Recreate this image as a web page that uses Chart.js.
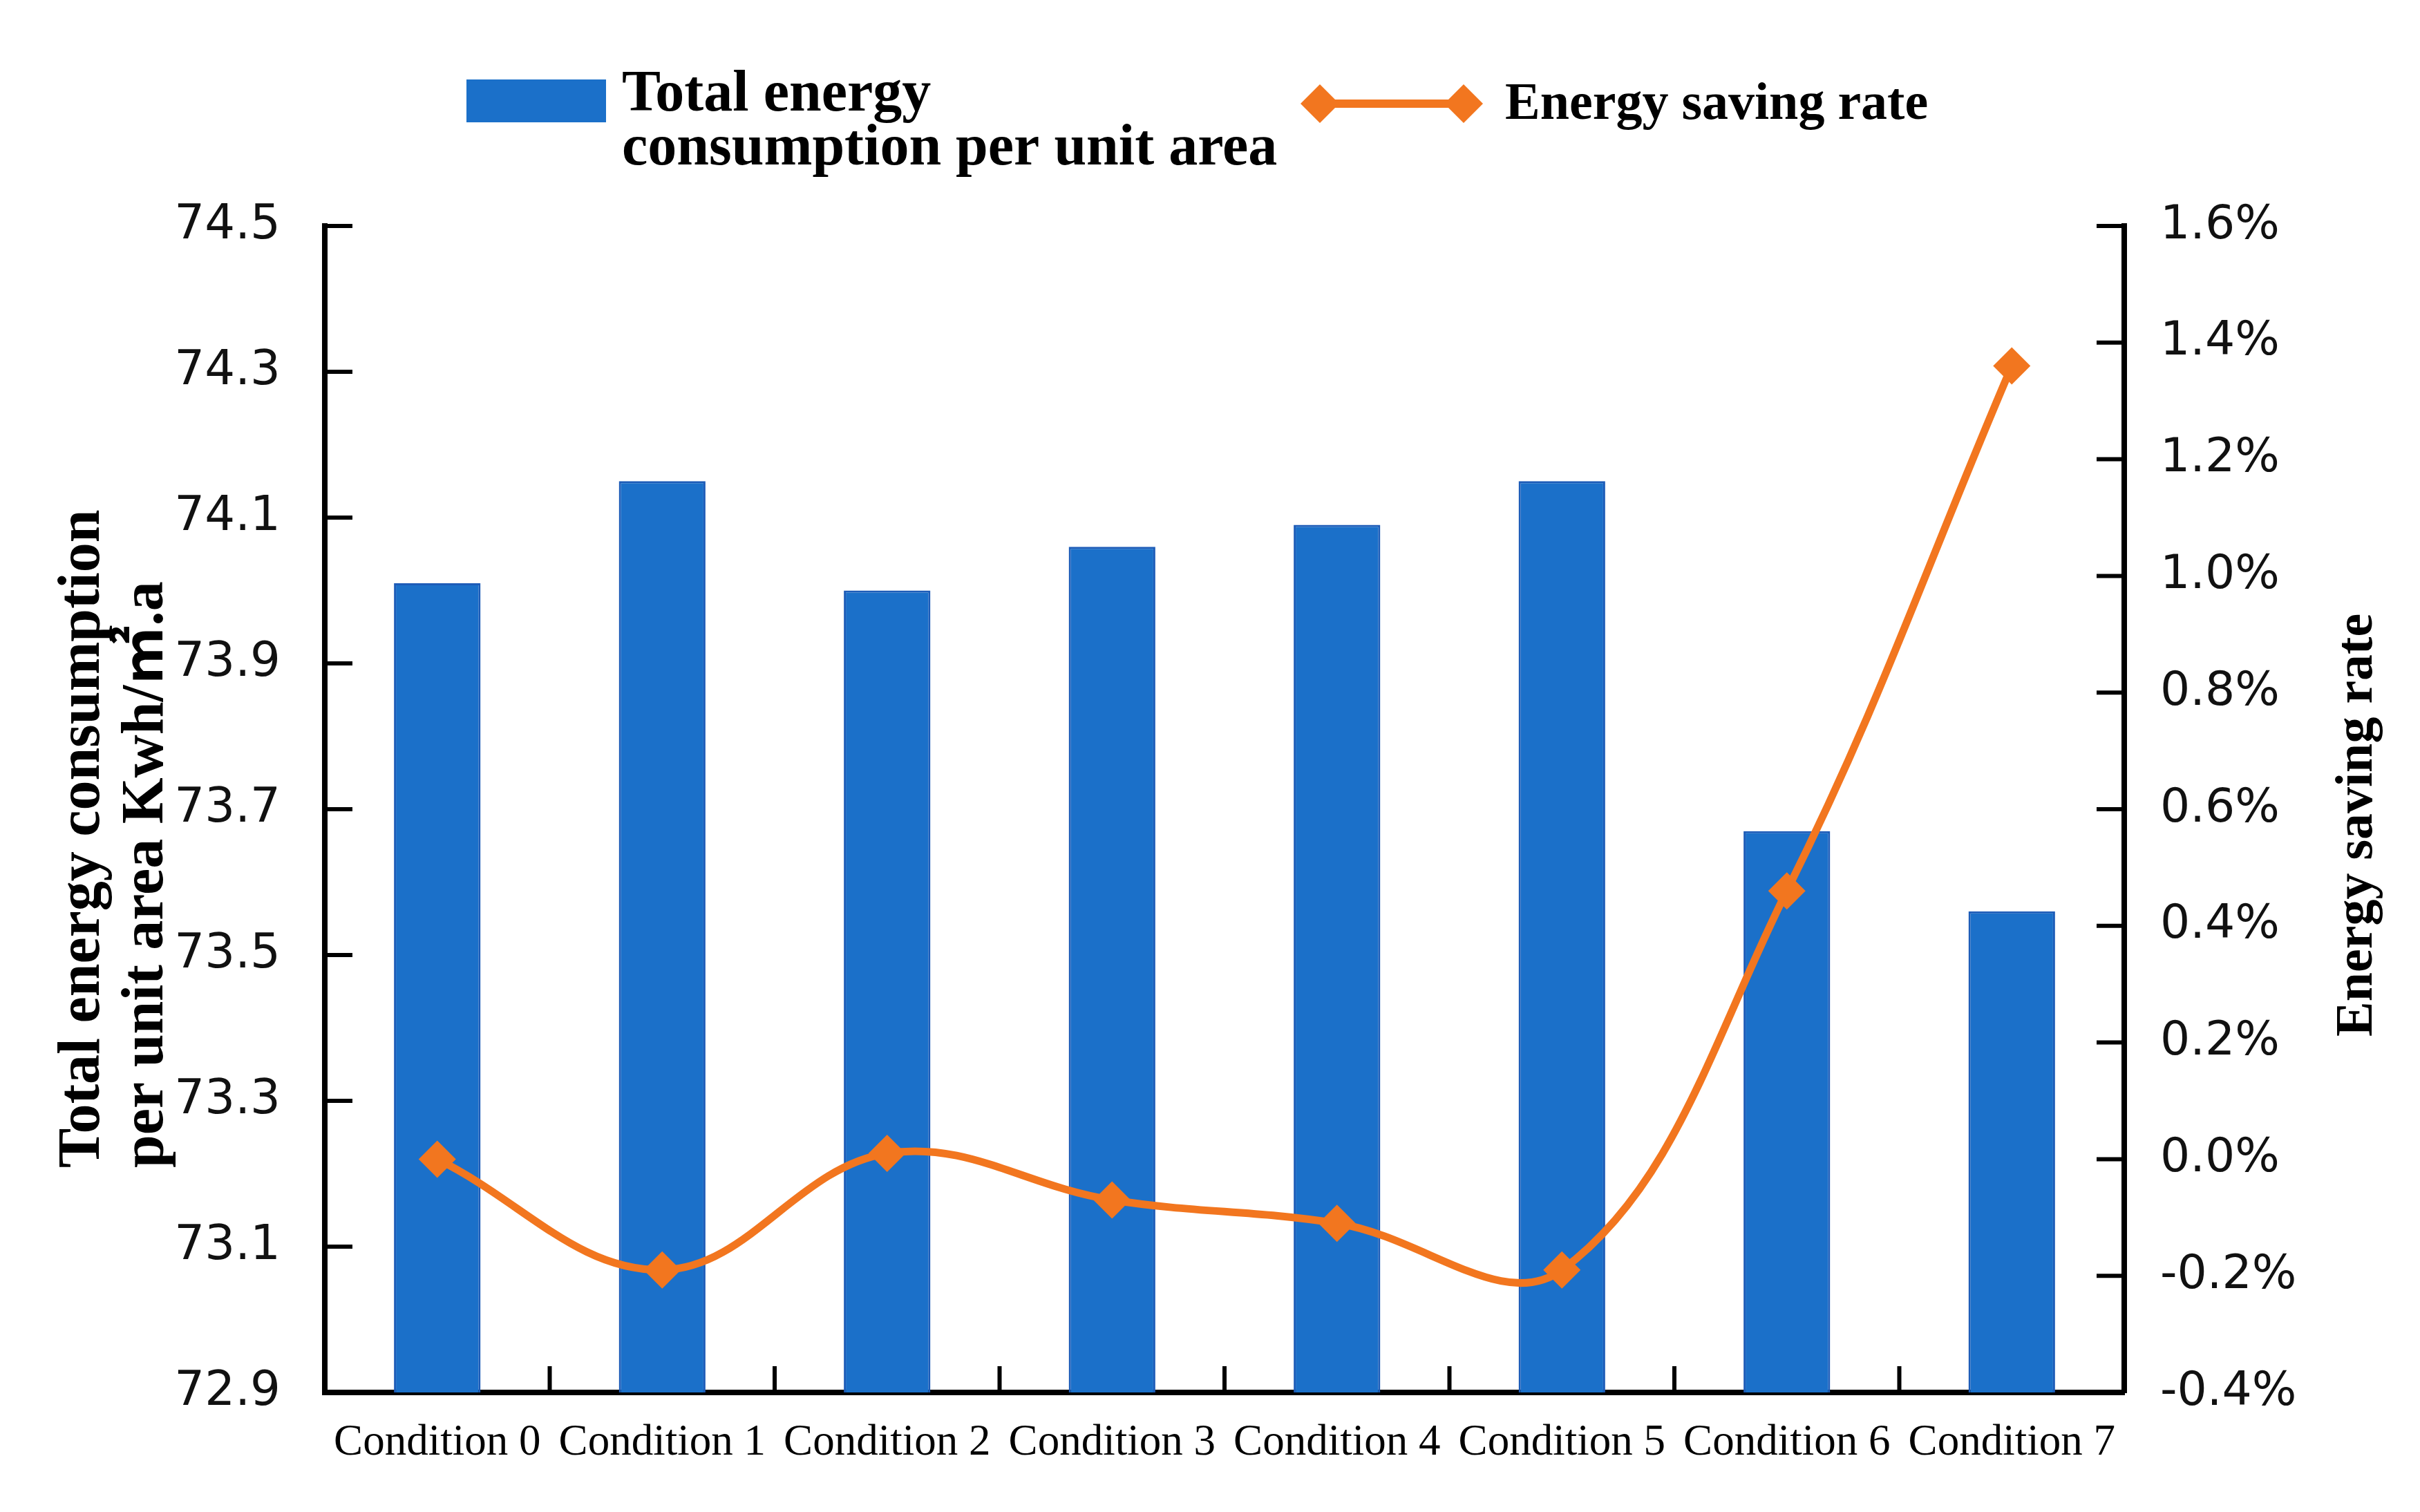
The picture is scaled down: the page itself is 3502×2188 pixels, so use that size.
<!DOCTYPE html>
<html>
<head>
<meta charset="utf-8">
<script src="https://cdn.jsdelivr.net/npm/chart.js@4.4.1/dist/chart.umd.min.js"></script>
<style>
  html, body { margin: 0; padding: 0; background: #fff; }
  #wrap { width: 3502px; height: 2188px; }
</style>
</head>
<body>
<div id="wrap"><canvas id="chart"></canvas></div>
<script>
// Categories and series
const conditions = ["Condition 0", "Condition 1", "Condition 2", "Condition 3",
                    "Condition 4", "Condition 5", "Condition 6", "Condition 7"];
const energyPerArea = [74.01, 74.15, 74.00, 74.06, 74.09, 74.15, 73.67, 73.56]; // Kwh/㎡.a
const savingRate = [0.00, -0.19, 0.01, -0.07, -0.11, -0.19, 0.46, 1.36];       // %

// Axis ranges
const leftMin = 72.9, leftMax = 74.5, leftStep = 0.2;
const rightMin = -0.4, rightMax = 1.6, rightStep = 0.2;

const barLabel = ["Total energy", "consumption per unit area"];
const lineLabel = "Energy saving rate";
const leftTitle = ["Total energy consumption", "per unit area Kwh/㎡.a"];
const rightTitle = "Energy saving rate";

const BLUE = "#1B70C9";
const ORANGE = "#F2761F";
const SERIF = "'Liberation Serif', 'Noto Sans CJK SC', serif";

function diamond(ctx, x, y, r) {
  ctx.beginPath();
  ctx.moveTo(x, y - r);
  ctx.lineTo(x + r, y);
  ctx.lineTo(x, y + r);
  ctx.lineTo(x - r, y);
  ctx.closePath();
  ctx.fill();
}

// inner tick marks, axis titles and the legend
const decorPlugin = {
  id: "decor",
  afterDraw(chart) {
    const ctx = chart.ctx;
    const area = chart.chartArea;
    const { x, y, y1 } = chart.scales;
    ctx.save();
    ctx.strokeStyle = "#000";
    ctx.lineWidth = 6;
    ctx.beginPath();
    y.ticks.forEach((t) => {
      const py = y.getPixelForValue(t.value);
      ctx.moveTo(area.left, py);
      ctx.lineTo(area.left + 40, py);
    });
    y1.ticks.forEach((t) => {
      const py = y1.getPixelForValue(t.value);
      ctx.moveTo(area.right - 40, py);
      ctx.lineTo(area.right, py);
    });
    for (let i = 0; i < conditions.length - 1; i++) {
      const px = (x.getPixelForValue(i) + x.getPixelForValue(i + 1)) / 2;
      ctx.moveTo(px, area.bottom);
      ctx.lineTo(px, area.bottom - 38);
    }
    ctx.stroke();

    // axis titles (both read bottom to top)
    ctx.fillStyle = "#000";
    ctx.font = "bold 86px " + SERIF;
    ctx.textAlign = "left";
    ctx.textBaseline = "middle";
    ctx.save();
    ctx.translate(0, 1690);
    ctx.rotate(-Math.PI / 2);
    ctx.fillText(leftTitle[0], 0, 121);
    ctx.fillText(leftTitle[1], 0, 213);
    ctx.restore();

    ctx.save();
    ctx.font = "bold 76px " + SERIF;
    ctx.translate(3412, 1500);
    ctx.rotate(-Math.PI / 2);
    ctx.fillText(rightTitle, 0, 0);
    ctx.restore();

    // legend
    ctx.fillStyle = BLUE;
    ctx.fillRect(675, 115, 202, 62);
    ctx.fillStyle = "#000";
    ctx.textBaseline = "alphabetic";
    ctx.font = "bold 84px " + SERIF;
    ctx.fillText(barLabel[0], 900, 160);
    ctx.fillText(barLabel[1], 900, 238);

    ctx.strokeStyle = ORANGE;
    ctx.lineWidth = 12;
    ctx.beginPath();
    ctx.moveTo(1910, 150);
    ctx.lineTo(2118, 150);
    ctx.stroke();
    ctx.fillStyle = ORANGE;
    diamond(ctx, 1910, 150, 28);
    diamond(ctx, 2118, 150, 28);
    ctx.fillStyle = "#000";
    ctx.font = "bold 76px " + SERIF;
    ctx.fillText(lineLabel, 2178, 172);
    ctx.restore();
  },
};

const ctx = document.getElementById("chart").getContext("2d");
new Chart(ctx, {
  data: {
    labels: conditions,
    datasets: [
      {
        type: "line",
        label: lineLabel,
        data: savingRate,
        yAxisID: "y1",
        borderColor: ORANGE,
        backgroundColor: ORANGE,
        borderWidth: 11,
        tension: 0.38,
        pointStyle: "rectRot",
        pointRadius: 27,
        pointBorderWidth: 0,
        order: 0,
      },
      {
        type: "bar",
        label: barLabel.join(" "),
        data: energyPerArea,
        yAxisID: "y",
        backgroundColor: BLUE,
        borderColor: "#1D5CB8",
        borderWidth: 3,
        barPercentage: 0.385,
        categoryPercentage: 1.0,
        order: 1,
      },
    ],
  },
  options: {
    responsive: true,
    maintainAspectRatio: false,
    devicePixelRatio: 1,
    animation: false,
    layout: { padding: { top: 327, left: 0, right: 0, bottom: 0 } },
    plugins: {
      legend: { display: false },
      tooltip: { enabled: false },
    },
    scales: {
      x: {
        offset: true,
        grid: { display: false, drawTicks: false },
        border: { display: true, color: "#000", width: 8 },
        ticks: {
          color: "#000",
          padding: 36,
          maxRotation: 0,
          autoSkip: false,
          font: { family: SERIF, size: 63 },
        },
        afterFit(s) { s.height = 173; },
      },
      y: {
        position: "left",
        min: leftMin,
        max: leftMax,
        grid: { display: false, drawTicks: false },
        border: { display: true, color: "#000", width: 8 },
        ticks: {
          stepSize: leftStep,
          color: "#111",
          padding: 64,
          font: { family: "'DejaVu Sans'", size: 69 },
          callback: (v) => v.toFixed(1),
        },
        afterFit(s) { s.width = 470; },
      },
      y1: {
        position: "right",
        min: rightMin,
        max: rightMax,
        grid: { display: false, drawTicks: false },
        border: { display: true, color: "#000", width: 8 },
        ticks: {
          stepSize: rightStep,
          color: "#111",
          padding: 52,
          font: { family: "'DejaVu Sans'", size: 68 },
          callback: (v) => v.toFixed(1) + "%",
        },
        afterFit(s) { s.width = 428; },
      },
    },
  },
  plugins: [decorPlugin],
});
</script>
</body>
</html>
